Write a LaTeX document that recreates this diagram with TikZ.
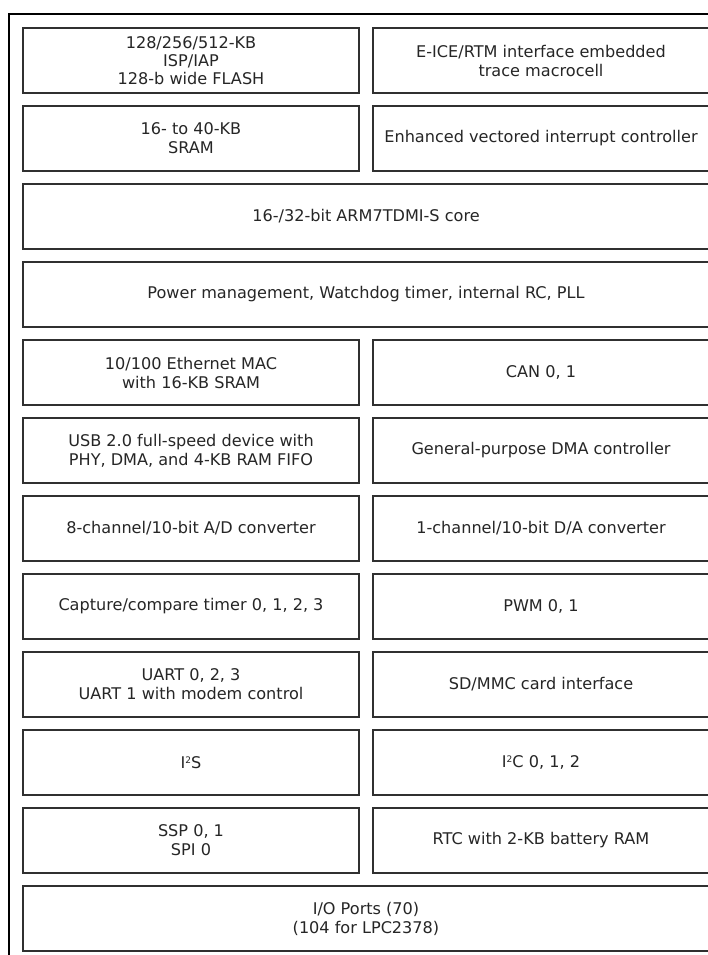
\documentclass[tikz,border=0pt]{standalone}
\usepackage{fontspec}
\setmainfont{DejaVu Sans}
\definecolor{boxline}{HTML}{303030}
\definecolor{txt}{HTML}{262626}
\newcommand{\suptwo}{\raisebox{0.55ex}{\fontsize{9}{9}\selectfont 2}}
\begin{document}
\begin{tikzpicture}[x=1pt,y=-1pt,
  blk/.style={draw=boxline, line width=1.4pt, fill=white, inner sep=0pt,
    minimum height=65pt, align=center, text=txt,
    font=\fontsize{16.1}{19}\selectfont},
  lcol/.style={blk, minimum width=336pt},
  rcol/.style={blk, minimum width=336pt},
  full/.style={blk, minimum width=686pt},
  frame/.style={draw=black, line width=1.4pt}]
\useasboundingbox (0,0) rectangle (708,955);
\clip (0,0) rectangle (708,955);
\coordinate (fbl) at (9,960);
\coordinate (ftl) at (9,14);
\coordinate (ftr) at (712,14);
\draw[frame] (fbl) -- (ftl) -- (ftr);
% rows: top = 28 + 78k, centre = 60.5 + 78k
\node[lcol] (flash) at (191,60.5) {128/256/512-KB\\[-1pt]ISP/IAP\\[-1pt]128-b wide FLASH};
\node[rcol] (eice) at (541,60.5) {E-ICE/RTM interface embedded\\trace macrocell};
\node[lcol] (sram) at (191,138.5) {16- to 40-KB\\SRAM};
\node[rcol] (vic) at (541,138.5) {Enhanced vectored interrupt controller};
\node[full] (core) at (366,216.5) {16-/32-bit ARM7TDMI-S core};
\node[full] (pwr) at (366,294.5) {Power management, Watchdog timer, internal RC, PLL};
\node[lcol] (eth) at (191,372.5) {10/100 Ethernet MAC\\with 16-KB SRAM};
\node[rcol] (can) at (541,372.5) {CAN 0, 1};
\node[lcol] (usb) at (191,450.5) {USB 2.0 full-speed device with\\PHY, DMA, and 4-KB RAM FIFO};
\node[rcol] (dma) at (541,450.5) {General-purpose DMA controller};
\node[lcol] (adc) at (191,528.5) {8-channel/10-bit A/D converter};
\node[rcol] (dac) at (541,528.5) {1-channel/10-bit D/A converter};
\node[lcol] (tmr) at (191,606.5) {Capture/compare timer 0, 1, 2, 3};
\node[rcol] (pwm) at (541,606.5) {PWM 0, 1};
\node[lcol] (uart) at (191,684.5) {UART 0, 2, 3\\UART 1 with modem control};
\node[rcol] (sd) at (541,684.5) {SD/MMC card interface};
\node[lcol] (i2s) at (191,762.5) {I\suptwo S};
\node[rcol] (i2c) at (541,762.5) {I\suptwo C 0, 1, 2};
\node[lcol] (ssp) at (191,840.5) {SSP 0, 1\\SPI 0};
\node[rcol] (rtc) at (541,840.5) {RTC with 2-KB battery RAM};
\node[full] (io) at (366,918.5) {I/O Ports (70)\\(104 for LPC2378)};
\end{tikzpicture}
\end{document}
